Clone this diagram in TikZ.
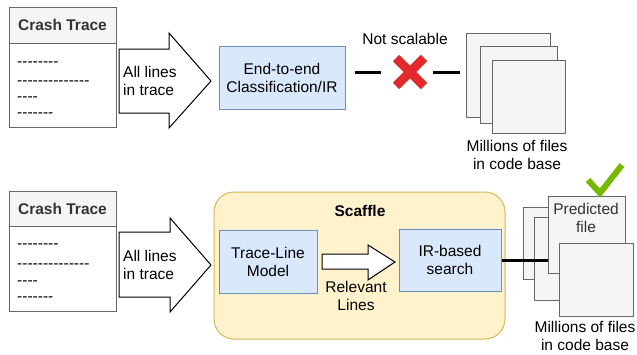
\documentclass[tikz,border=0pt]{standalone}
\usepackage{fontspec}
\setmainfont{Liberation Sans}
\definecolor{bluefill}{HTML}{DAE8FC}
\definecolor{bluedraw}{HTML}{6C8EBF}
\definecolor{greyfill}{HTML}{F5F5F5}
\definecolor{greydraw}{HTML}{666666}
\definecolor{headtext}{HTML}{333333}
\definecolor{yellowfill}{HTML}{FFF2CC}
\definecolor{yellowdraw}{HTML}{D6B656}
\definecolor{xred}{HTML}{E22A2A}
\definecolor{okgreen}{HTML}{77B800}
\newcommand\dashrow[1]{\foreach\k in {1,...,#1}{\mbox{-}}}
\begin{document}
\begin{tikzpicture}[x=1pt,y=-1pt,font=\fontsize{15.5}{18}\selectfont,
  box/.style={draw, line width=1pt, inner sep=0pt, align=center},
  bluebox/.style={box, draw=bluedraw, fill=bluefill},
  greybox/.style={box, draw=greydraw, fill=greyfill},
  whitebox/.style={box, draw=greydraw, fill=white},
  filebox/.style={draw=greydraw, fill=greyfill, line width=1pt, inner sep=0pt},
  lbl/.style={inner sep=0pt, align=center},
  dashtxt/.style={inner sep=0pt, anchor=base west},
  bigarrow/.style={draw=black, fill=white, line width=1pt, line join=miter},
  conn/.style={line width=3pt},
  headlbl/.style={font=\fontsize{15.5}{18}\selectfont\bfseries, text=headtext}]
\useasboundingbox (0,0) rectangle (637,354);

% ---------- top row ----------
\node[whitebox, minimum width=107pt, minimum height=84pt] (ct1body) at (62.5,85) {};
\node[greybox, minimum width=107pt, minimum height=36pt, headlbl] (ct1) at (62.5,25) {Crash Trace};
\node[dashtxt] (ct1a) at (17,66) {\dashrow{8}};
\node[dashtxt] (ct1b) at (17,85) {\dashrow{14}};
\node[dashtxt] (ct1c) at (17,101) {\dashrow{4}};
\node[dashtxt] (ct1d) at (17,117) {\dashrow{7}};

\draw[bigarrow] (119,49) -- (169,49) -- (169,33) -- (211,81) -- (169,128) -- (169,113) -- (119,113) -- cycle;
\node[lbl, align=left, anchor=west] (a1) at (123,81) {All lines\\in trace};

\node[bluebox, minimum width=126pt, minimum height=63pt] (e2e) at (282,77.5) {End-to-end\\Classification/IR};

\node[lbl] (ns) at (405,39) {Not scalable};
\coordinate (xm) at (410,72);

\node[filebox, minimum size=84pt] (f1) at (508,75) {};
\node[filebox, minimum size=77pt] (f2) at (518.5,85) {};
\node[filebox, minimum size=73pt] (f3) at (528.5,96.5) {};
\node[lbl] (m1) at (517,155) {Millions of files\\in code base};

\draw[conn, shorten <=9pt, shorten >=29pt] (e2e.east |- xm) -- (xm);
\draw[conn, shorten <=23pt, shorten >=6pt] (xm) -- (xm -| f1.west);
\draw[xred, line width=9pt] ([shift={(-14,-14)}]xm) -- ([shift={(14,14)}]xm);
\draw[xred, line width=9pt] ([shift={(14,-14)}]xm) -- ([shift={(-14,14)}]xm);

% ---------- bottom row ----------
\node[whitebox, minimum width=107pt, minimum height=85pt] (ct2body) at (62.5,268.5) {};
\node[greybox, minimum width=107pt, minimum height=35pt, headlbl] (ct2) at (62.5,208.5) {Crash Trace};
\node[dashtxt] (ct2a) at (17,248) {\dashrow{8}};
\node[dashtxt] (ct2b) at (17,268) {\dashrow{14}};
\node[dashtxt] (ct2c) at (17,285) {\dashrow{4}};
\node[dashtxt] (ct2d) at (17,301) {\dashrow{7}};

\draw[bigarrow] (119,232) -- (170,232) -- (170,218) -- (211,265) -- (170,312) -- (170,297) -- (119,297) -- cycle;
\node[lbl, align=left, anchor=west] (a2) at (123,265) {All lines\\in trace};

\node[draw=yellowdraw, fill=yellowfill, line width=1pt, rounded corners=20pt,
      minimum width=291pt, minimum height=147pt, inner sep=0pt] (sc) at (359.5,265.5) {};
\node[lbl, font=\fontsize{15.5}{18}\selectfont\bfseries] (sct) at (360,211) {Scaffle};
\node[bluebox, minimum width=98pt, minimum height=63pt] (tl) at (268,261.5) {Trace-Line\\Model};
\node[bluebox, minimum width=102pt, minimum height=62pt] (ir) at (450,260) {IR-based\\search};
\draw[bigarrow] (322,254) -- (368,254) -- (368,245) -- (395,262) -- (368,280) -- (368,269) -- (322,269) -- cycle;
\node[lbl] (rl) at (356,296) {Relevant\\Lines};

\node[filebox, minimum size=72pt] (pa) at (559,243) {};
\node[filebox, minimum width=83pt, minimum height=83pt] (pb) at (575.5,258.5) {};
\node[filebox, minimum size=77pt] (pc) at (586.5,234.5) {};
\node[filebox, minimum width=74pt, minimum height=73pt] (pd) at (596,279.5) {};
\node[lbl, text=headtext] (pt) at (586,217.5) {Predicted\\file};
\draw[conn] (ir.east) -- (ir.east -| pc.west);
\draw[okgreen, line width=6pt] (588,180) -- (600,193) -- (622,165);
\node[lbl] (m2) at (585,335.5) {Millions of files\\in code base};
\end{tikzpicture}
\end{document}
